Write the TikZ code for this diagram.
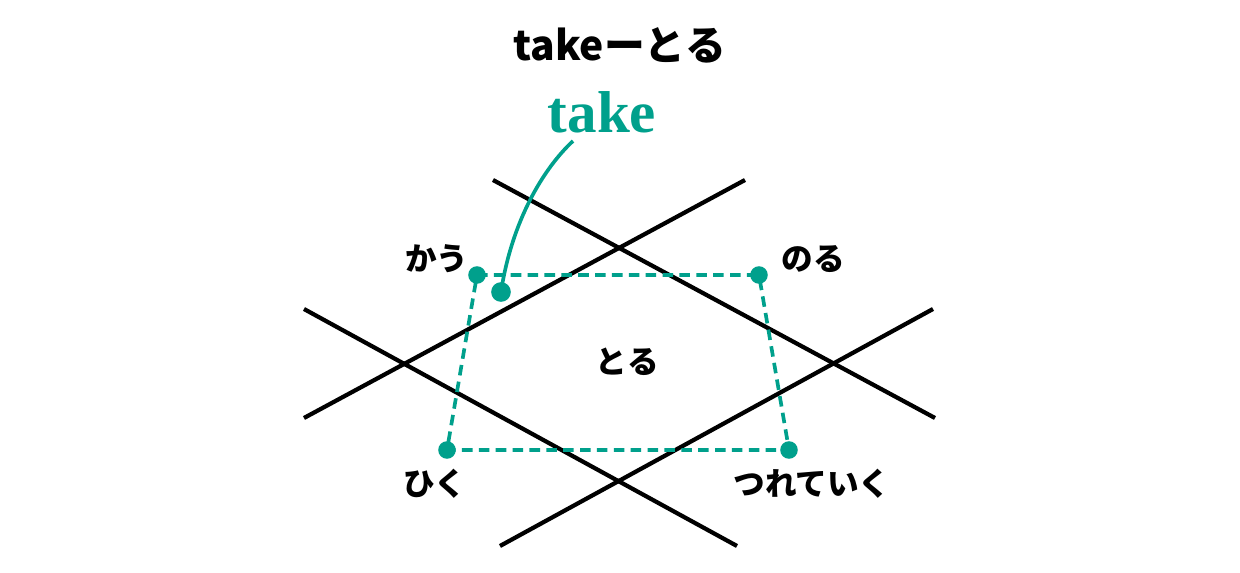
\documentclass[tikz,border=0pt]{standalone}
\usepackage{fontspec}
\usepackage{tikz}
\usetikzlibrary{positioning,calc}
\newfontfamily\jpfont{Noto Sans CJK JP}
\newfontfamily\serifbold{Liberation Serif}
\definecolor{takegreen}{RGB}{0,160,140}

\begin{document}
\begin{tikzpicture}[
    crossline/.style={line width=3pt, black},
    frameline/.style={line width=2.6pt, takegreen, dash pattern=on 7.5pt off 4.5pt},
    dotmark/.style={circle, fill=takegreen, inner sep=0pt, minimum size=12.5pt},
    lab/.style={font=\jpfont\bfseries\fontsize{22.5}{24}\selectfont, inner sep=0pt},
    leader/.style={line width=2.6pt, takegreen}
]
\useasboundingbox (-15.5,-5.225) rectangle (15.5,9.1);

% title and the word itself
\node[font=\jpfont\bfseries\fontsize{29}{32}\selectfont, inner sep=0pt] (title) at (0,7.975) {takeーとる};
\node[font=\serifbold\bfseries\fontsize{42}{44}\selectfont, text=takegreen, inner sep=0pt] (word) at (-0.45,6.3) {take};

% the four crossing lines
\draw[crossline] (-3.175,4.6) -- (7.875,-1.35);
\draw[crossline] (3.125,4.6) -- (-7.9,-1.35);
\draw[crossline] (-7.9,1.375) -- (2.925,-4.55);
\draw[crossline] (7.825,1.375) -- (-3.0,-4.55);

% corners of the frame
\node[dotmark] (kau)   at (-3.575,2.225) {};
\node[dotmark] (noru)  at (3.475,2.225)  {};
\node[dotmark] (hiku)  at (-4.325,-2.15) {};
\node[dotmark] (tsure) at (4.225,-2.15)  {};
\draw[frameline] (kau.center) -- (noru.center) -- (tsure.center) -- (hiku.center) -- cycle;

\node[lab] (kaulab)   at (-4.575,2.625) {かう};
\node[lab] (norulab)  at (4.825,2.625)  {のる};
\node[lab] (hikulab)  at (-4.625,-3.0)  {ひく};
\node[lab] (tsurelab) at (4.8,-3.0)     {つれていく};
\node[lab] (toru)     at (0.175,0.05)   {とる};

% pointer from the word
\node[dotmark, minimum size=14pt] (takedot) at (-2.975,1.8) {};
\coordinate (wordfoot) at (-1.175,5.575);
\draw[leader] (takedot.center) .. controls (-2.7,3.6) and (-1.9,4.9) .. (wordfoot);
\end{tikzpicture}
\end{document}
